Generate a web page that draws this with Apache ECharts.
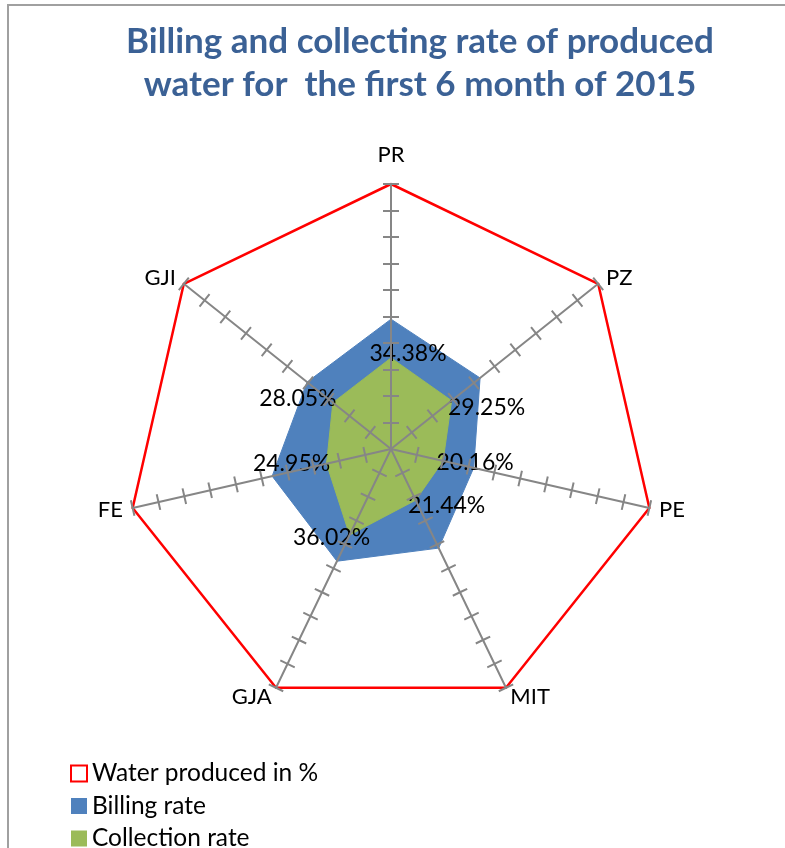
<!DOCTYPE html>
<html>
<head>
<meta charset="utf-8">
<title>Billing and collecting rate of produced water</title>
<script src="https://cdn.jsdelivr.net/npm/echarts@6/dist/echarts.min.js"></script>
<style>
  html, body { margin: 0; padding: 0; background: #fff; }
  #chart { position: absolute; left: 0; top: 0; width: 785px; height: 848px; }
  .frame {
    position: absolute; left: 7px; top: 4px; width: 900px; height: 900px;
    border-left: 2px solid #a0a0a0; border-top: 2px solid #a0a0a0;
    pointer-events: none;
  }
</style>
</head>
<body>
<div id="chart"></div>
<div class="frame"></div>
<script>
// axes, clockwise from the top
const offices = ['PR', 'PZ', 'PE', 'MIT', 'GJA', 'FE', 'GJI'];
const waterProduced = [100, 100, 100, 100, 100, 100, 100];
const billingRate = [49, 43, 32, 41.5, 47, 46, 40.5];
const collectionRate = [34.38, 29.25, 20.16, 21.44, 36.02, 24.95, 28.05];
// tick marks along every spoke (none at the centre)
const tickValues = [10, 20, 30, 40, 50, 60, 70, 80, 90, 100];

// label nudges (px) so each value sits where the original put it
const labelNudge = [[17, -4], [35, 7], [32, 2], [31, 5], [-18, 3], [-35, 0], [-35, -4]];

// echarts lays radar indicators counter-clockwise, so feed them reversed
const order = [0, 6, 5, 4, 3, 2, 1];
const pick = arr => order.map(i => arr[i]);

const font = 'Lato, "Open Sans", sans-serif';
const axisGrey = '#868686';

function radarBase(extra) {
  return Object.assign({
    center: [391, 449],
    radius: 265,
    startAngle: 90,
    splitNumber: 10,
    shape: 'polygon',
    indicator: pick(offices).map(n => ({ name: n, min: 0, max: 100 })),
    splitLine: { show: false },
    splitArea: { show: false },
    zlevel: 1
  }, extra);
}

const chart = echarts.init(document.getElementById('chart'));
const labelTexts = collectionRate.map(v => v.toFixed(2) + '%');

const option = {
  animation: false,
  title: {
    text: 'Billing and collecting rate of produced\nwater for  the first 6 month of 2015',
    left: 415,
    top: 15,
    textAlign: 'center',
    textStyle: {
      fontFamily: font,
      fontSize: 35,
      fontWeight: 'bold',
      color: '#3b6195',
      lineHeight: 43
    }
  },
  legend: {
    orient: 'vertical',
    left: 70,
    top: 761,
    height: 100,
    padding: 0,
    itemWidth: 16,
    itemHeight: 16,
    itemGap: 7.5,
    textStyle: { fontFamily: font, fontSize: 24.5, color: '#000' },
    data: [
      { name: 'Water produced in %', icon: 'rect', itemStyle: { color: '#fff', borderColor: '#ff0000', borderWidth: 2 } },
      { name: 'Billing rate', icon: 'rect' },
      { name: 'Collection rate', icon: 'rect' }
    ]
  },
  radar: [
    radarBase({
      nameGap: 10,
      axisName: {
        color: '#000',
        fontFamily: font,
        fontSize: 22,
        formatter: n => (n === 'PR' ? '{top|' + n + '}' : n),
        rich: { top: { fontFamily: font, fontSize: 22, color: '#000', padding: [0, 0, 8, 0] } }
      },
      axisLine: { lineStyle: { color: axisGrey, width: 2 } },
      axisTick: { show: true, length: 8, customValues: tickValues, lineStyle: { color: axisGrey, width: 2 } }
    }),
    radarBase({
      axisName: { show: false },
      axisLine: { show: false },
      axisTick: { show: true, length: -8, customValues: tickValues, lineStyle: { color: axisGrey, width: 2 } }
    })
  ],
  series: [
    {
      type: 'radar',
      radarIndex: 0,
      symbol: 'none',
      lineStyle: { color: '#ff0000', width: 2.5 },
      itemStyle: { color: '#ff0000' },
      data: [{ name: 'Water produced in %', value: pick(waterProduced) }]
    },
    {
      type: 'radar',
      radarIndex: 0,
      symbol: 'none',
      lineStyle: { color: '#4f81bd', width: 1 },
      itemStyle: { color: '#4f81bd' },
      areaStyle: { color: '#4f81bd', opacity: 1 },
      data: [{ name: 'Billing rate', value: pick(billingRate) }]
    },
    {
      type: 'radar',
      radarIndex: 0,
      symbol: 'circle',
      symbolSize: 1,
      lineStyle: { color: '#9bbb59', width: 1 },
      itemStyle: { color: '#9bbb59' },
      areaStyle: { color: '#9bbb59', opacity: 1 },
      label: {
        show: true,
        position: 'inside',
        fontFamily: font,
        fontSize: 23,
        color: '#000',
        formatter: p => p.value.toFixed(2) + '%'
      },
      labelLayout: function (p) {
        const i = labelTexts.indexOf(p.text);
        if (i < 0) return {};
        return { dx: labelNudge[i][0], dy: labelNudge[i][1] };
      },
      data: [{ name: 'Collection rate', value: pick(collectionRate) }]
    }
  ]
};

chart.setOption(option);
</script>
</body>
</html>
